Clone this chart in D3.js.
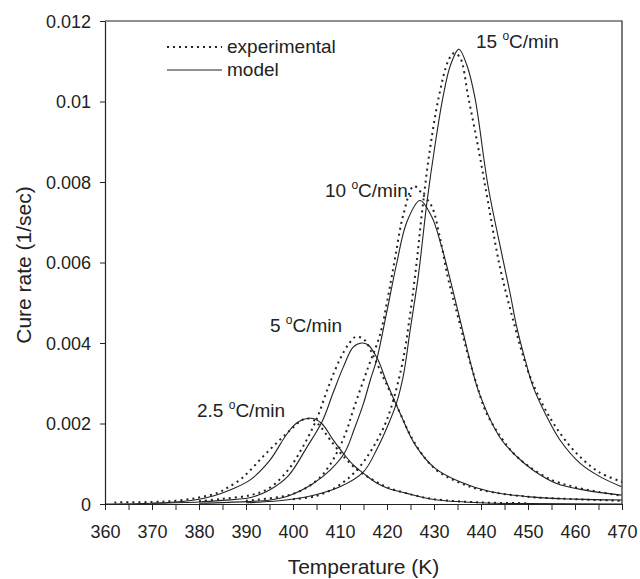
<!DOCTYPE html>
<html>
<head>
<meta charset="utf-8">
<script src="https://cdnjs.cloudflare.com/ajax/libs/d3/7.8.5/d3.min.js"></script>
<style>
  body { margin: 0; background: #fff; }
  text { font-family: "Liberation Sans", Arial, sans-serif; fill: #222; }
</style>
</head>
<body>
<div id="chart"></div>
<script>
// Data (temperature in K, cure rate in 1/sec)
let xTicks = [360, 370, 380, 390, 400, 410, 420, 430, 440, 450, 460, 470];
let yTicks = [0, 0.002, 0.004, 0.006, 0.008, 0.01, 0.012];
let yTickLabels = ["0", "0.002", "0.004", "0.006", "0.008", "0.01", "0.012"];

let tModel25 = [360, 370, 375, 380, 383, 386.6, 390.9, 395.1, 398.7, 401, 404, 406.1, 408.5, 411.1, 413, 415, 417.8, 420, 424, 430, 440, 450, 470];
let rModel25 = [0, 0.00002, 0.00005, 0.00012, 0.0002, 0.00035, 0.0006, 0.00109, 0.00174, 0.00203, 0.00213, 0.002, 0.0016, 0.0012, 0.00095, 0.00076, 0.00052, 0.0004, 0.00027, 0.00011, 0.00003, 0.00001, 0];
let tExp25 = [362, 370, 375, 380, 384, 386, 388.7, 391, 393.3, 395.5, 397.9, 400, 402.5, 404.5, 406, 408, 411, 414, 417, 420, 425, 430, 440, 450];
let rExp25 = [0.00004, 0.00005, 0.00008, 0.00016, 0.00028, 0.0004, 0.0006, 0.00085, 0.00114, 0.0014, 0.00167, 0.0019, 0.00212, 0.00208, 0.0019, 0.00158, 0.00115, 0.00082, 0.0006, 0.00042, 0.00024, 0.00012, 0.00004, 0.00002];

let tModel5 = [370, 380, 385, 391, 395, 399, 403, 406.2, 408.5, 410.7, 412.8, 414.6, 416, 418, 420, 422.8, 426, 430.2, 435.5, 441.9, 451.1, 460, 470];
let rModel5 = [0.00002, 0.00005, 0.00009, 0.00016, 0.00035, 0.0007, 0.00142, 0.00205, 0.00275, 0.0034, 0.0039, 0.004, 0.00395, 0.0036, 0.003, 0.00225, 0.00147, 0.00089, 0.00055, 0.00031, 0.00017, 0.00012, 0.0001];
let tExp5 = [380, 385, 391, 395, 399, 402, 405, 407.5, 410, 412, 413.3, 415, 417, 419, 421, 423, 425, 428, 431, 435, 440, 450, 460, 470];
let rExp5 = [0.00007, 0.00013, 0.00022, 0.0004, 0.00085, 0.0014, 0.0021, 0.0029, 0.0036, 0.004, 0.00415, 0.0041, 0.0037, 0.0032, 0.0027, 0.0022, 0.0017, 0.00115, 0.0008, 0.00055, 0.00035, 0.00018, 0.00012, 0.00008];

let tModel10 = [380, 390, 395.1, 399.4, 404.3, 407.9, 411.1, 413, 415, 416.5, 417.8, 419.9, 422.1, 424.2, 427, 429.5, 431.6, 433.4, 435.5, 438, 439.6, 444, 447.6, 451.1, 456.1, 461.8, 469.9];
let rModel10 = [0.00002, 0.00006, 0.0001, 0.00022, 0.00051, 0.00084, 0.0013, 0.00185, 0.0025, 0.0031, 0.00358, 0.00474, 0.006, 0.007, 0.00754, 0.00714, 0.0064, 0.0056, 0.0046, 0.0034, 0.00276, 0.00166, 0.00118, 0.00084, 0.00051, 0.00035, 0.00022];
let tExp10 = [390, 400, 405, 408, 411, 413, 416, 418.5, 420.3, 421.7, 423.5, 425.7, 427.5, 429.5, 431.3, 433, 435, 437, 439, 441, 444, 447, 450, 455, 460, 465, 470];
let rExp10 = [0.00008, 0.00025, 0.00058, 0.001, 0.0017, 0.0024, 0.0034, 0.0042, 0.0052, 0.0061, 0.0072, 0.0079, 0.0077, 0.0074, 0.0066, 0.0056, 0.0047, 0.0038, 0.003, 0.0023, 0.0017, 0.00125, 0.00095, 0.0006, 0.00042, 0.0003, 0.0002];

let tModel15 = [390, 397, 403, 410, 415, 418, 420, 422, 423.5, 424.9, 426.7, 428.5, 430.2, 431.9, 433.5, 435.3, 437, 438.7, 441.5, 444.7, 446.2, 447.6, 449.4, 451.1, 454, 456.8, 461.1, 465.3, 469.9];
let rModel15 = [0.00003, 0.00008, 0.00018, 0.00043, 0.0008, 0.0014, 0.0019, 0.0025, 0.0032, 0.0043, 0.0057, 0.0075, 0.0089, 0.0101, 0.0109, 0.0113, 0.0109, 0.0101, 0.0079, 0.00606, 0.00523, 0.0044, 0.00358, 0.00291, 0.00217, 0.00159, 0.00101, 0.00068, 0.00043];
let tExp15 = [400, 405, 410, 414, 417, 420, 423.1, 424.9, 426.3, 427.5, 429, 431, 433, 434.2, 435.5, 437.3, 439.5, 441.5, 444, 447, 450, 453, 456, 460, 465, 470];
let rExp15 = [0.00012, 0.0002, 0.00048, 0.0009, 0.0014, 0.0021, 0.0034, 0.0047, 0.006, 0.0073, 0.0087, 0.0101, 0.011, 0.0112, 0.0111, 0.0101, 0.0088, 0.0075, 0.0059, 0.0045, 0.0033, 0.0025, 0.0019, 0.0013, 0.0008, 0.00055];

let rateLabels = [
  { rate: "15", suffix: "C/min", x: 476, y: 48 },
  { rate: "10", suffix: "C/min.", x: 325, y: 197 },
  { rate: "5", suffix: "C/min", x: 270, y: 332 },
  { rate: "2.5", suffix: "C/min", x: 197, y: 417 }
];

let svgWidth = 640;
let svgHeight = 579;

var margin = {
  top: 21,
  right: 18,
  bottom: 75,
  left: 105
};

let width = svgWidth - margin.left - margin.right;
let height = svgHeight - margin.top - margin.bottom;

let svg = d3.select("#chart")
  .append("svg")
  .attr("width", svgWidth)
  .attr("height", svgHeight);

let chartGroup = svg.append("g")
  .attr("transform", `translate(${margin.left}, ${margin.top})`);

let xScale = d3.scaleLinear().domain([360, 470]).range([0, width]);
let yScale = d3.scaleLinear().domain([0, 0.012]).range([height, 0]);

// frame (top and right)
chartGroup.append("path")
  .attr("d", `M0,0H${width}V${height}`)
  .attr("fill", "none")
  .attr("stroke", "#222")
  .attr("stroke-width", 1.2);

// x axis with minor ticks at 5 K
let xAxis = chartGroup.append("g")
  .attr("transform", `translate(0, ${height})`)
  .call(d3.axisBottom(xScale).tickValues(d3.range(360, 471, 5)).tickSize(6).tickSizeOuter(0)
    .tickFormat(d => xTicks.includes(d) ? d : ""));

let yAxis = chartGroup.append("g")
  .call(d3.axisLeft(yScale).tickValues(yTicks).tickSize(5).tickSizeOuter(0)
    .tickFormat((d, i) => yTickLabels[i]));

[xAxis, yAxis].forEach(function(ax) {
  ax.select(".domain").attr("stroke", "#222").attr("stroke-width", 1.2);
  ax.selectAll(".tick line").attr("stroke", "#222");
  ax.selectAll(".tick text")
    .attr("font-size", "18px")
    .attr("font-family", "Liberation Sans, Arial, sans-serif")
    .attr("fill", "#222");
});
xAxis.selectAll(".tick text").attr("y", 21).attr("dy", "0.71em");
yAxis.selectAll(".tick text").attr("x", -14).attr("dy", "0.35em");

// curves
let line = d3.line()
  .x(d => xScale(d[0]))
  .y(d => yScale(d[1]))
  .curve(d3.curveCatmullRom.alpha(0.5));

let series = [
  { t: tModel25, r: rModel25, exp: false },
  { t: tExp25, r: rExp25, exp: true },
  { t: tModel5, r: rModel5, exp: false },
  { t: tExp5, r: rExp5, exp: true },
  { t: tModel10, r: rModel10, exp: false },
  { t: tExp10, r: rExp10, exp: true },
  { t: tModel15, r: rModel15, exp: false },
  { t: tExp15, r: rExp15, exp: true }
];

series.forEach(function(s) {
  let pts = s.t.map((t, i) => [t, s.r[i]]);
  chartGroup.append("path")
    .datum(pts)
    .attr("d", line)
    .attr("fill", "none")
    .attr("stroke", "#222")
    .attr("stroke-width", s.exp ? 2 : 1.1)
    .attr("stroke-dasharray", s.exp ? "2,4" : null);
});

// rate labels
rateLabels.forEach(function(l) {
  let txt = svg.append("text")
    .attr("x", l.x)
    .attr("y", l.y)
    .attr("font-size", "19px");
  txt.append("tspan").text(l.rate + " ");
  txt.append("tspan").attr("font-size", "12px").attr("dy", -8).text("o");
  txt.append("tspan").attr("dy", 8).text(l.suffix);
});

// legend
let legend = svg.append("g");
legend.append("line")
  .attr("x1", 167).attr("x2", 222).attr("y1", 47).attr("y2", 47)
  .attr("stroke", "#222").attr("stroke-width", 2).attr("stroke-dasharray", "2,4");
legend.append("line")
  .attr("x1", 167).attr("x2", 222).attr("y1", 70).attr("y2", 70)
  .attr("stroke", "#222").attr("stroke-width", 1.1);
legend.append("text").attr("x", 227).attr("y", 53).attr("font-size", "19px").text("experimental");
legend.append("text").attr("x", 227).attr("y", 76).attr("font-size", "19px").text("model");

// axis titles
svg.append("text")
  .attr("x", margin.left + width / 2)
  .attr("y", 574)
  .attr("text-anchor", "middle")
  .attr("font-size", "21px")
  .text("Temperature (K)");

svg.append("text")
  .attr("transform", `translate(31, 265) rotate(-90)`)
  .attr("text-anchor", "middle")
  .attr("font-size", "21px")
  .text("Cure rate (1/sec)");
</script>
</body>
</html>
